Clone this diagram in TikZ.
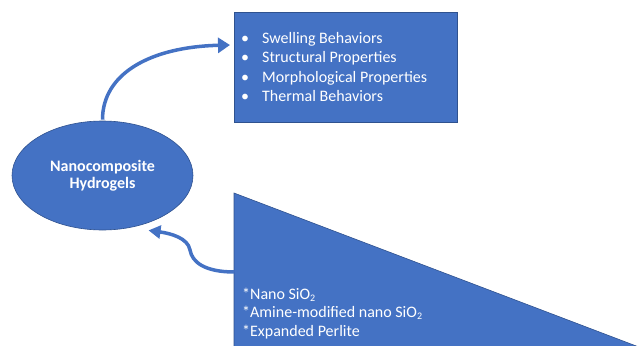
\documentclass[tikz,border=0pt]{standalone}
\usepackage{fontspec}
\setmainfont{Carlito}
\usetikzlibrary{arrows.meta,shapes.geometric}
\definecolor{obl}{HTML}{4472C4}
\definecolor{obd}{HTML}{2F528F}
\tikzset{
  box/.style={fill=obl, draw=obd, line width=0.6pt, inner sep=0pt},
  ell/.style={ellipse, fill=obl, draw=obd, line width=0.6pt, inner sep=0pt, text=white,
    align=center, font=\fontsize{16}{17.5}\selectfont\bfseries},
  line/.style={anchor=base west, inner sep=0pt, text=white, font=\fontsize{16}{19}\selectfont},
  conn/.style={draw=obl, line width=3.5pt, -{Triangle[length=12pt,width=15pt]}}
}
\begin{document}
\begin{tikzpicture}[x=1pt,y=-1pt]
\useasboundingbox (0,0) rectangle (644,345);
\clip (0,0) rectangle (644,345);
% properties box
\node[box, minimum width=223pt, minimum height=110pt, anchor=north west] (props) at (234,12) {};
\node[line] (l1) at (241,44) {\makebox[21pt][l]{•}Swelling Behaviors};
\node[line] (l2) at (241,63) {\makebox[21pt][l]{•}Structural Properties};
\node[line] (l3) at (241,82) {\makebox[21pt][l]{•}Morphological Properties};
\node[line] (l4) at (241,101) {\makebox[21pt][l]{•}Thermal Behaviors};
% ellipse
\node[ell, minimum width=181pt, minimum height=109pt] (hyd) at (102.5,175.5) {Nanocomposite\\Hydrogels};
% triangle
\fill[obl, draw=obd, line width=0.6pt] (234,193) -- (234,352) -- (652,352) -- cycle;
\coordinate (tri) at (234.5,272);
\node[line] (m1) at (242,299) {*Nano SiO\textsubscript{\fontsize{10}{10}\selectfont 2}};
\node[line] (m2) at (242,317) {*Amine-modified nano SiO\textsubscript{\fontsize{10}{10}\selectfont 2}};
\node[line] (m3) at (242,336) {*Expanded Perlite};
% connectors
\draw[conn] ([yshift=1pt]hyd.north) .. controls +(0,-46) and +(-80,2) .. ([shift={(-4,33)}]props.north west);
\draw[conn, -{Triangle[length=12pt,width=13pt]}] (tri) .. controls +(-30,0) and +(2,12) .. (190,250) .. controls +(-2,-12) and +(22,3) .. ([shift={(5,6)}]hyd.-50);
\end{tikzpicture}
\end{document}
